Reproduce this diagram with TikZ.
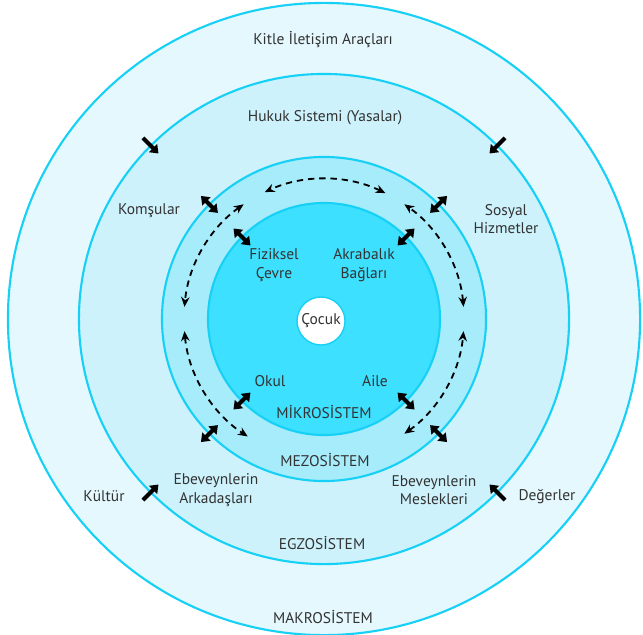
\documentclass[tikz,border=0pt]{standalone}
\usepackage{fontspec}
\setmainfont{PT Sans}
\usepackage{tikz}
\usetikzlibrary{arrows.meta,calc,positioning}
\definecolor{ringline}{HTML}{16D0F5}
\definecolor{makrofill}{HTML}{E4F8FE}
\definecolor{egzofill}{HTML}{CDF2FC}
\definecolor{mezofill}{HTML}{A7ECFB}
\definecolor{mikrofill}{HTML}{3DE0FE}
\definecolor{ink}{HTML}{333333}
\tikzset{
  >=Stealth,
  ring/.style={draw=ringline, line width=1.5pt},
  txt/.style={text=ink, align=center, font=\fontsize{11}{13}\selectfont, inner sep=1pt},
  duo/.style={line width=2.8pt, {Triangle[length=5.5pt,width=8pt]}-{Triangle[length=5.5pt,width=8pt]}},
  uni/.style={line width=2.8pt, -{Triangle[length=5.5pt,width=8pt]}},
  flow/.style={line width=1.3pt, dash pattern=on 4.5pt off 3.5pt, {Stealth[length=7pt,width=6pt]}-{Stealth[length=7pt,width=6pt]}}
}

\begin{document}
\begin{tikzpicture}[x=0.025cm,y=-0.025cm]
\useasboundingbox (0,0) rectangle (643,634);
\coordinate (c) at (324,319);
% rings
\filldraw[ring, fill=makrofill] (c) circle[radius=7.9cm];
\filldraw[ring, fill=egzofill] (c) circle[radius=6.125cm];
\filldraw[ring, fill=mezofill] (c) circle[radius=4.05cm];
\filldraw[ring, fill=mikrofill] (c) circle[radius=2.9cm];
\node[circle, fill=white, draw=ringline, line width=1pt, minimum size=1.2cm, txt] (cocuk) at (321,321) {Çocuk};
% labels
\node[txt] (kitle) at (323,40) {Kitle İletişim Araçları};
\node[txt] (hukuk) at (325,118) {Hukuk Sistemi (Yasalar)};
\node[txt] (komsular) at (149,211) {Komşular};
\node[txt] (sosyal) at (506,219) {Sosyal\\Hizmetler};
\node[txt] (fiziksel) at (274,265) {Fiziksel\\Çevre};
\node[txt] (akrabalik) at (364,265) {Akrabalık\\Bağları};
\node[txt] (okul) at (270,381) {Okul};
\node[txt] (aile) at (375,381) {Aile};
\node[txt] (mikro) at (324,412) {MİKROSİSTEM};
\node[txt] (mezo) at (325,460) {MEZOSİSTEM};
\node[txt] (arkadas) at (216,490) {Ebeveynlerin\\Arkadaşları};
\node[txt] (meslek) at (434,490) {Ebeveynlerin\\Meslekleri};
\node[txt] (kultur) at (104,496) {Kültür};
\node[txt] (degerler) at (547,497) {Değerler};
\node[txt] (egzo) at (322,543) {EGZOSİSTEM};
\node[txt] (makro) at (323,617) {MAKROSİSTEM};
% influences across the exosystem border
\draw[uni] ($(c)+(135:6.4cm)$) -- ($(c)+(135:5.85cm)$);
\draw[uni] ($(c)+(45:6.4cm)$) -- ($(c)+(45:5.85cm)$);
\draw[uni] ($(c)+(225:6.4cm)$) -- ($(c)+(225:5.85cm)$);
\draw[uni] ($(c)+(315:6.4cm)$) -- ($(c)+(315:5.85cm)$);
% two-way links, mesosystem border
\draw[duo] ($(c)+(135:3.75cm)$) -- ($(c)+(135:4.35cm)$);
\draw[duo] ($(c)+(45:3.75cm)$) -- ($(c)+(45:4.35cm)$);
\draw[duo] ($(c)+(225:3.75cm)$) -- ($(c)+(225:4.35cm)$);
\draw[duo] ($(c)+(315:3.75cm)$) -- ($(c)+(315:4.35cm)$);
% two-way links, microsystem border
\draw[duo] ($(c)+(135:2.6cm)$) -- ($(c)+(135:3.2cm)$);
\draw[duo] ($(c)+(45:2.6cm)$) -- ($(c)+(45:3.2cm)$);
\draw[duo] ($(c)+(225:2.6cm)$) -- ($(c)+(225:3.2cm)$);
\draw[duo] ($(c)+(315:2.6cm)$) -- ($(c)+(315:3.2cm)$);
% dashed links inside the mesosystem
\draw[flow] ($(c)+(64:3.5cm)$) arc[start angle=64, end angle=115, radius=3.5cm];
\draw[flow] ($(c)+(125:3.5cm)$) arc[start angle=125, end angle=175, radius=3.5cm];
\draw[flow] ($(c)+(185:3.5cm)$) arc[start angle=185, end angle=237, radius=3.5cm];
\draw[flow] ($(c)+(5:3.5cm)$) arc[start angle=5, end angle=55, radius=3.5cm];
\draw[flow] ($(c)+(-55:3.5cm)$) arc[start angle=-55, end angle=-5, radius=3.5cm];
\end{tikzpicture}
\end{document}
